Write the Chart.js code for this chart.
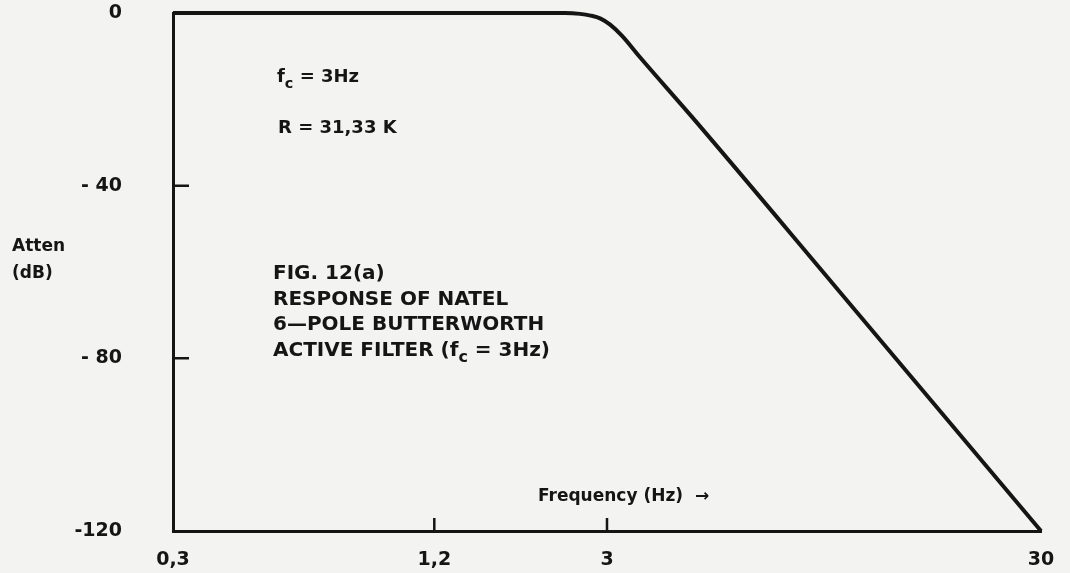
<!DOCTYPE html>
<html>
<head>
<meta charset="utf-8">
<script src="https://cdn.jsdelivr.net/npm/chart.js@4.4.1/dist/chart.umd.min.js"></script>
<style>
    body { margin: 0; background: #f3f3f1; }
    #wrap { position: relative; width: 1070px; height: 573px; }
    .note { position: absolute; font-family: "DejaVu Sans", sans-serif; font-weight: bold; color: #151515; white-space: nowrap; }
    .note sub { font-size: 0.8em; vertical-align: -0.4em; line-height: 0; }
</style>
</head>
<body>
<div id="wrap">
    <canvas id="myChart" width="1070" height="573"></canvas>
    <div class="note" style="left:12px;top:232px;font-size:17px;line-height:27px">Atten<br>(dB)</div>
    <div class="note" style="left:277px;top:67px;font-size:18px;line-height:1">f<sub>c</sub> = 3Hz</div>
    <div class="note" style="left:278px;top:118px;font-size:18px;line-height:1">R = 31,33 K</div>
    <div class="note" style="left:273px;top:260px;font-size:20px;line-height:25.7px">FIG. 12(a)<br>RESPONSE OF NATEL<br>6—POLE BUTTERWORTH<br>ACTIVE FILTER (f<sub>c</sub> = 3Hz)</div>
    <div class="note" style="left:538px;top:487px;font-size:17px;line-height:1">Frequency (Hz) &nbsp;→</div>
</div>
<script>
// values
const freq = [0.3, 1, 2.4, 2.6, 2.75, 2.9, 3.05, 3.25, 3.57, 4.73, 10, 30];
const atten = [0, 0, 0, -0.2, -0.6, -1.3, -2.7, -5.3, -10.2, -24.3, -63, -120];
const xTicks = [0.3, 1.2, 3, 30];
const xTickLabels = ['0,3', '1,2', '3', '30'];
const yTicks = [-120, -80, -40, 0];
const yTickLabels = ['-120', '- 80', '- 40', '0'];

const ink = '#151515';
const tickFont = { family: 'DejaVu Sans', weight: 'bold', size: 19 };

// small tick marks drawn inside the plot area
const innerTicks = {
    id: 'innerTicks',
    afterDraw(chart) {
        const ctx = chart.ctx;
        const x = chart.scales.x, y = chart.scales.y;
        ctx.save();
        ctx.strokeStyle = ink;
        ctx.lineWidth = 2.5;
        ctx.beginPath();
        xTicks.slice(1, -1).forEach(v => {
            const px = x.getPixelForValue(v);
            ctx.moveTo(px, y.bottom);
            ctx.lineTo(px, y.bottom - 13);
        });
        yTicks.slice(1, -1).forEach(v => {
            const py = y.getPixelForValue(v);
            ctx.moveTo(x.left, py);
            ctx.lineTo(x.left + 16, py);
        });
        ctx.stroke();
        ctx.restore();
    }
};

const ctx = document.getElementById('myChart');
new Chart(ctx, {
    type: 'line',
    data: {
        datasets: [{
            data: freq.map((f, i) => ({ x: f, y: atten[i] })),
            borderColor: ink,
            borderWidth: 4,
            pointRadius: 0,
            cubicInterpolationMode: 'monotone',
            clip: false
        }]
    },
    options: {
        responsive: false,
        animation: false,
        layout: { padding: { top: 13, right: 29, left: 0, bottom: 0 } },
        plugins: { legend: { display: false }, tooltip: { enabled: false } },
        scales: {
            x: {
                type: 'logarithmic',
                min: 0.3,
                max: 30,
                afterBuildTicks: s => { s.ticks = xTicks.map(v => ({ value: v })); },
                afterFit: s => { s.height = 42; },
                // tick marks hidden; tickLength only spaces the labels
                grid: { display: false, drawTicks: true, tickLength: 18 },
                border: { display: true, width: 3, color: ink },
                ticks: {
                    autoSkip: false,
                    maxRotation: 0,
                    padding: 0,
                    color: ink,
                    font: tickFont,
                    callback: (v, i) => xTickLabels[i]
                }
            },
            y: {
                min: -120,
                max: 0,
                afterBuildTicks: s => { s.ticks = yTicks.map(v => ({ value: v })); },
                afterFit: s => { s.width = 173; },
                grid: { display: false, drawTicks: true, tickLength: 51 },
                border: { display: true, width: 3, color: ink },
                ticks: {
                    padding: 0,
                    color: ink,
                    font: tickFont,
                    callback: (v, i) => yTickLabels[i]
                }
            }
        }
    },
    plugins: [innerTicks]
});
</script>
</body>
</html>
